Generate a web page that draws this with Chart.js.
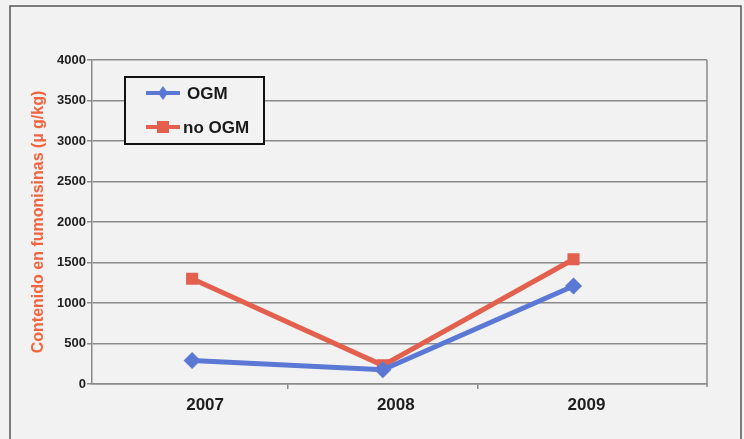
<!DOCTYPE html>
<html>
<head>
<meta charset="utf-8">
<script src="https://cdn.jsdelivr.net/npm/chart.js@4/dist/chart.umd.min.js"></script>
<style>
  html, body { margin: 0; padding: 0; background: #f2f2f2; }
  #wrap { width: 744px; height: 439px; }
</style>
</head>
<body>
<div id="wrap"><canvas id="grafico" width="744" height="439"></canvas></div>
<script>
// datos
var anios = [2007, 2008, 2009];
var ogm = [290, 175, 1210];
var noOgm = [1300, 230, 1540];
var ticksY = [0, 500, 1000, 1500, 2000, 2500, 3000, 3500, 4000];
// marcas del eje x entre categorias
var marcasX = [2007, 2007.5, 2008, 2008.5, 2009];

var azul = '#5b78d4';
var rojo = '#e2604d';
var fuente = '"Liberation Sans", Arial, sans-serif';

function puntos(valores) {
    return valores.map(function(v, i) { return { x: anios[i], y: v }; });
}

// marco exterior, borde del area y leyenda
var marco = {
    id: 'marco',
    beforeDraw: function(chart) {
        var ctx = chart.ctx;
        ctx.save();
        ctx.fillStyle = '#f2f2f2';
        ctx.fillRect(0, 0, chart.width, chart.height);
        ctx.strokeStyle = '#555';
        ctx.lineWidth = 1.5;
        ctx.strokeRect(10, 6, 731, 445);
        ctx.restore();
    },
    afterDraw: function(chart) {
        var ctx = chart.ctx;
        var a = chart.chartArea;
        ctx.save();
        ctx.strokeStyle = '#8a8a8a';
        ctx.lineWidth = 1.5;
        ctx.beginPath();
        ctx.moveTo(a.right, a.top);
        ctx.lineTo(a.right, a.bottom + 3);
        ctx.stroke();

        // leyenda
        var x = 125, y = 77, w = 139, h = 67;
        ctx.fillStyle = '#f2f2f2';
        ctx.fillRect(x, y, w, h);
        ctx.strokeStyle = '#111';
        ctx.lineWidth = 2;
        ctx.strokeRect(x, y, w, h);
        var filas = [
            { y: 93, ds: chart.data.datasets[0], tx: 187 },
            { y: 127, ds: chart.data.datasets[1], tx: 183 }
        ];
        filas.forEach(function(f) {
            ctx.strokeStyle = f.ds.borderColor;
            ctx.lineWidth = 4;
            ctx.beginPath();
            ctx.moveTo(146, f.y);
            ctx.lineTo(180, f.y);
            ctx.stroke();
            ctx.fillStyle = f.ds.borderColor;
            if (f.ds.pointStyle === 'rect') {
                ctx.fillRect(157, f.y - 6, 12, 12);
            } else {
                ctx.beginPath();
                ctx.moveTo(163, f.y - 7);
                ctx.lineTo(168, f.y);
                ctx.lineTo(163, f.y + 7);
                ctx.lineTo(158, f.y);
                ctx.closePath();
                ctx.fill();
            }
            ctx.fillStyle = '#1a1a1a';
            ctx.font = 'bold 17px ' + fuente;
            ctx.textBaseline = 'middle';
            ctx.fillText(f.ds.label, f.tx, f.y + 1);
        });
        ctx.restore();
    }
};

var grafico = new Chart(document.getElementById('grafico'), {
    type: 'line',
    data: {
        datasets: [{
            label: 'OGM',
            data: puntos(ogm),
            borderColor: azul,
            backgroundColor: azul,
            borderWidth: 5,
            pointStyle: 'rectRot',
            pointRadius: 5,
            pointHoverRadius: 5
        }, {
            label: 'no OGM',
            data: puntos(noOgm),
            borderColor: rojo,
            backgroundColor: rojo,
            borderWidth: 5,
            pointStyle: 'rect',
            pointRadius: 5,
            pointHoverRadius: 5
        }]
    },
    options: {
        responsive: false,
        animation: false,
        layout: { padding: { left: 0, top: 60, right: 37, bottom: 0 } },
        plugins: {
            legend: { display: false },
            tooltip: { enabled: false }
        },
        scales: {
            x: {
                type: 'linear',
                min: 2006.475,
                max: 2009.7,
                afterBuildTicks: function(s) {
                    s.ticks = marcasX.map(function(v) { return { value: v }; });
                },
                grid: {
                    drawOnChartArea: false,
                    tickLength: 5,
                    lineWidth: 1.5,
                    color: function(c) {
                        return (c.tick && c.tick.value % 1 !== 0) ? '#8a8a8a' : 'rgba(0,0,0,0)';
                    }
                },
                border: { color: '#8a8a8a', width: 1.5 },
                ticks: {
                    color: '#1e1e1e',
                    font: { family: fuente, size: 17, weight: 'bold' },
                    padding: 6,
                    labelOffset: 13,
                    autoSkip: false,
                    maxRotation: 0,
                    callback: function(v) { return v % 1 === 0 ? String(v) : ''; }
                },
                afterFit: function(s) { s.height = 55; }
            },
            y: {
                min: 0,
                max: 4000,
                afterBuildTicks: function(s) {
                    s.ticks = ticksY.map(function(v) { return { value: v }; });
                },
                grid: { color: '#8a8a8a', lineWidth: 1.5, tickLength: 5 },
                border: { color: '#8a8a8a', width: 1.5 },
                ticks: {
                    color: '#1e1e1e',
                    font: { family: fuente, size: 13, weight: 'bold' },
                    padding: 1,
                    callback: function(v) { return String(v); }
                },
                title: {
                    display: true,
                    text: 'Contenido en fumonisinas (µ g/kg)',
                    color: '#f0643f',
                    font: { family: fuente, size: 16, weight: 'bold' },
                    padding: { top: 29, bottom: 0 }
                },
                afterFit: function(s) { s.width = 92; }
            }
        }
    },
    plugins: [marco]
});
</script>
</body>
</html>
